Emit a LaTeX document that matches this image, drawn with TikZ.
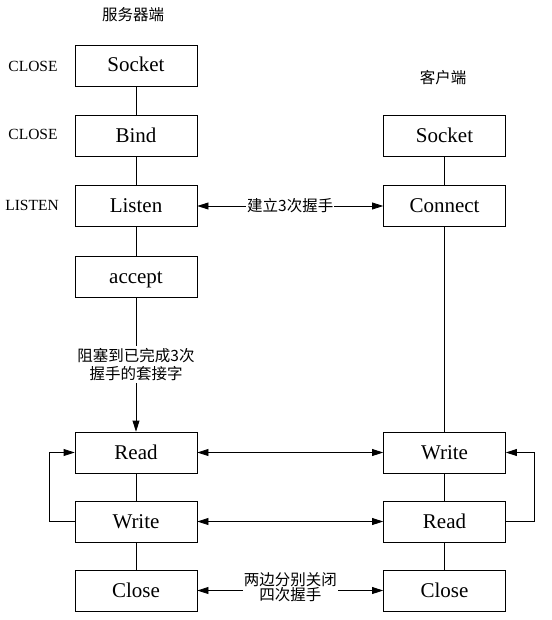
\documentclass[tikz,border=0pt]{standalone}
\usepackage{fontspec}
\setmainfont{Liberation Serif}
\newfontfamily\cjk{Noto Sans CJK SC}
\usetikzlibrary{arrows.meta}
\tikzset{
  box/.style={draw, line width=0.8pt, minimum width=122pt, minimum height=41pt, inner sep=0pt, text height=13pt, text depth=0pt, font=\fontsize{21}{24}\selectfont},
  state/.style={font=\fontsize{15.5}{17}\selectfont},
  cn/.style={font=\cjk\fontsize{15.5}{19}\selectfont, align=center, inner sep=1pt},
  link/.style={line width=0.8pt},
  arr/.style={line width=0.8pt, -{Triangle[length=11pt,width=7pt]}},
  darr/.style={line width=0.8pt, {Triangle[length=11pt,width=7pt]}-{Triangle[length=11pt,width=7pt]}},
}
\begin{document}
\begin{tikzpicture}[x=1pt,y=-1pt]
\useasboundingbox (0,0) rectangle (551,620);
% titles
\node[cn] (t1) at (133,15) {服务器端};
\node[cn] (t2) at (443,78) {客户端};
% state labels
\node[state] (s1) at (33,66) {CLOSE};
\node[state] (s2) at (33,134) {CLOSE};
\node[state] (s3) at (32,205) {LISTEN};
% server boxes
\node[box] (ss) at (136,65.5) {Socket};
\node[box] (sb) at (136,136) {Bind};
\node[box] (sl) at (136,206) {Listen};
\node[box] (sa) at (136,276.5) {accept};
\node[box] (sr) at (136,452.5) {Read};
\node[box] (sw) at (136,521.5) {Write};
\node[box] (sc) at (136,590.5) {Close};
% client boxes
\node[box] (cs) at (444.5,136) {Socket};
\node[box] (cc) at (444.5,206) {Connect};
\node[box] (cw) at (444.5,452.5) {Write};
\node[box] (cr) at (444.5,521.5) {Read};
\node[box] (ccl) at (444.5,590.5) {Close};
% vertical links
\draw[link] (ss) -- (sb);
\draw[link] (sb) -- (sl);
\draw[link] (sl) -- (sa);
\draw[arr] (sa) -- node[cn, fill=white, inner sep=2pt] {阻塞到已完成3次\\[-1pt]握手的套接字} (sr);
\draw[link] (sr) -- (sw);
\draw[link] (sw) -- (sc);
\draw[link] (cs) -- (cc);
\draw[link] (cc) -- (cw);
\draw[link] (cw) -- (cr);
\draw[link] (cr) -- (ccl);
% horizontal
\draw[darr] (sl) -- node[cn, fill=white] {建立3次握手} (cc);
\draw[darr] (sr) -- (cw);
\draw[darr] (sw) -- (cr);
\draw[darr] (sc) -- node[cn, fill=white, yshift=3pt] {两边分别关闭\\[-4pt]四次握手} (ccl);
% loops
\coordinate (lw) at (49.5,521.5);
\coordinate (lr) at (49.5,452.5);
\draw[arr] (sw.west) -- (lw) -- (lr) -- (sr.west);
\coordinate (rr) at (534,521.5);
\coordinate (rw) at (534,452.5);
\draw[arr] (cr.east) -- (rr) -- (rw) -- (cw.east);
\end{tikzpicture}
\end{document}
